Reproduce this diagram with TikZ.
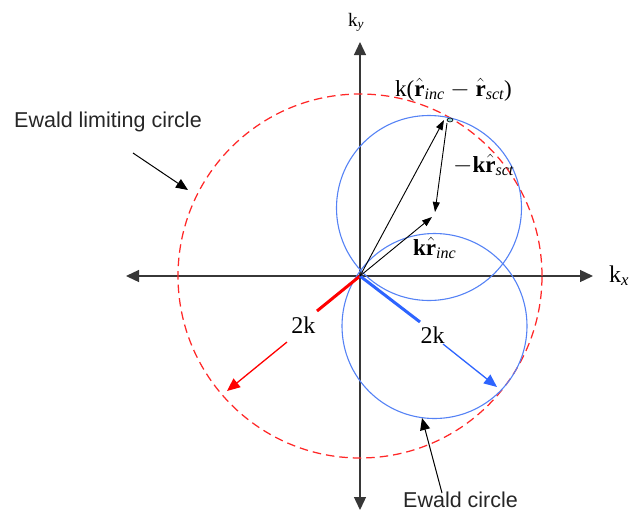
\documentclass[tikz,border=0pt]{standalone}
\usepackage{amsmath}
\usepackage{fontspec}
\setmainfont{Liberation Serif}
\newfontfamily\sansf{Liberation Sans}
\usetikzlibrary{arrows.meta,calc}
\definecolor{ewred}{RGB}{255,40,40}
\definecolor{ewblue}{RGB}{85,130,245}
\definecolor{arblue}{RGB}{45,100,255}
\definecolor{axgray}{RGB}{55,55,55}
\definecolor{dotcol}{RGB}{150,210,210}
\newcommand{\rhat}{\hat{\textbf{r}}}
\newcommand{\subit}[1]{\text{\itshape #1}}
\begin{document}
\begin{tikzpicture}[x=1pt,y=-1pt,
  axisline/.style={draw=axgray,line width=1.3pt,{Triangle[length=13pt,width=12pt]}-{Triangle[length=13pt,width=12pt]}},
  vec/.style={draw=black,line width=0.9pt,-{Triangle[length=10pt,width=7pt]}},
  callout/.style={draw=black,line width=1pt,-{Triangle[length=12pt,width=10pt]}},
  bigserif/.style={font=\fontsize{23}{27}\selectfont,inner sep=0pt,anchor=base west},
  sanslab/.style={font=\sansf\fontsize{21.5}{26}\selectfont,inner sep=0pt,anchor=base west,text=black!85},
  twok/.style={font=\fontsize{24}{28}\selectfont,inner sep=0pt},
  bluecirc/.style={draw=ewblue,line width=1.1pt},
]
\useasboundingbox (0,0) rectangle (629,515);

% coordinates
\coordinate (O) at (360,276);
\coordinate (axL) at (126,276);
\coordinate (axR) at (593,276);
\coordinate (axT) at (360,42);
\coordinate (axB) at (360,510);

% axes
\draw[axisline] (axL) -- (axR);
\draw[axisline] (axB) -- (axT);
\node[bigserif,font=\fontsize{24}{28}\selectfont] (kx) at (609,282) {k$_{\subit{x}}$};
\node[bigserif,font=\fontsize{19}{23}\selectfont] (ky) at (348,26) {k$_{\subit{y}}$};

% Ewald limiting circle (red, dashed)
\draw[ewred,line width=1.25pt,dash pattern=on 8.5pt off 5pt] (O) circle[radius=182pt];

% Ewald circles (blue)
\draw[bluecirc] (429,208) circle[radius=92.5pt];
\draw[bluecirc] (434.5,326) circle[radius=92.5pt];

% red 2k
\coordinate (R) at (227,391);
\coordinate (Rthick) at (317,311);
\coordinate (Rthin) at (287,342);
\node[twok] (rlab) at (303.3,325.5) {2k};
\draw[red,line width=3pt] (O) -- (Rthick);
\draw[red,line width=1.3pt,-{Triangle[length=13pt,width=11pt]}] (Rthin) -- (R);

% blue 2k
\coordinate (Bt) at (497,387);
\coordinate (Bthick) at (420,322);
\coordinate (Bthin) at (443,344);
\node[twok] (blab) at (432.5,335.5) {2k};
\draw[arblue,line width=3pt] (O) -- (Bthick);
\draw[arblue,line width=1.3pt,-{Triangle[length=13pt,width=11pt]}] (Bthin) -- (Bt);

% black vectors
\coordinate (A) at (444,120);
\coordinate (A2) at (447,123);
\coordinate (Bs) at (435,212);
\coordinate (C) at (432,217);
\draw[vec] (O) -- (A);
\draw[vec] (A2) -- (Bs);
\draw[vec] (O) -- (C);
\draw[black,line width=0.6pt,fill=dotcol] (450,120) ellipse[x radius=3pt,y radius=2pt];

% vector labels
\node[bigserif] (ldiff) at (395,96) {k($\rhat_{\subit{inc}}$ $-$ $\rhat_{\subit{sct}}$)};
\node[bigserif] (lsct) at (453,172) {$-$\textbf{k}$\rhat_{\subit{sct}}$};
\node[bigserif] (linc) at (413,255) {\textbf{k}$\rhat_{\subit{inc}}$};

% callouts
\node[sanslab] (elc) at (14,127) {Ewald limiting circle};
\coordinate (elcS) at (133,153);
\coordinate (elcT) at (188,190);
\draw[callout] (elcS) -- (elcT);

\node[sanslab] (ec) at (403,507) {Ewald circle};
\coordinate (ecS) at (442,493);
\coordinate (ecT) at (422,418);
\draw[callout] (ecS) -- (ecT);
\end{tikzpicture}
\end{document}
